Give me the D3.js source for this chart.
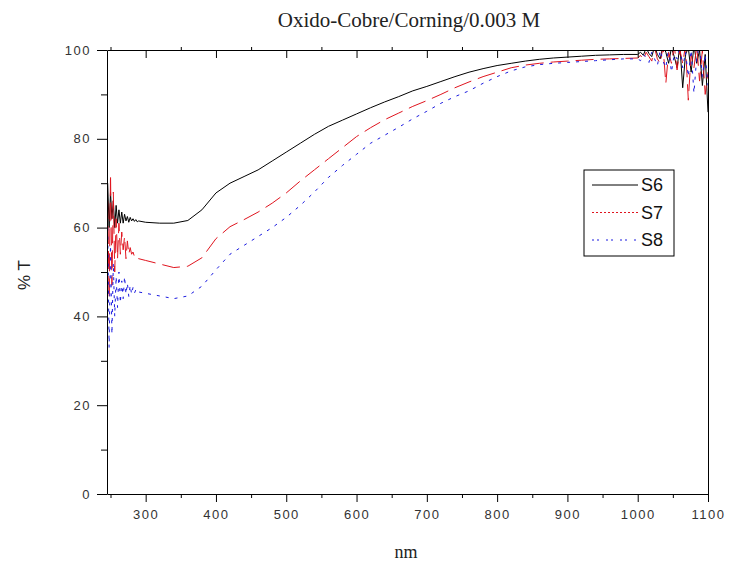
<!DOCTYPE html>
<html>
<head>
<meta charset="utf-8">
<script src="https://cdn.jsdelivr.net/npm/d3@7"></script>
<style>
	body { margin: 0; background: #fff; }
	svg { display: block; }
</style>
</head>
<body>
<div id="chart"></div>
<script>
'use strict';

// wavelength (nm): dense at the noisy ends, coarser in the smooth middle
const nm_start = [246,248,250,252,254,256,258,260,262,264,266,268,270,272,274,276,278,280,282,284,286,288,290];
const nm_mid = [300,320,340,360,380,400,420,440,460,480,500,520,540,560,580,600,620,640,660,680,700,720,740,760,780,800,820,840,860,880,900,920,940,960,980];
const nm_end = [1000,1004,1008,1012,1016,1020,1024,1028,1032,1036,1040,1044,1048,1052,1056,1060,1064,1068,1072,1076,1080,1084,1088,1092,1096,1100];

// % T
const s6_start = [70,60,68,62,66,60,65,61,64,61,63.5,61,63,61.5,62.5,61.2,62.3,61.5,62,61.4,61.8,61.3,61.5];
const s6_mid = [61.2,61,61,61.6,64,67.8,70,71.5,73,75,77,79,81,82.8,84.2,85.6,87,88.3,89.5,90.8,91.8,92.9,94,95,95.8,96.5,97,97.5,97.9,98.2,98.4,98.6,98.8,98.9,99];
const s6_end = [99,99.5,98.8,100.5,99.2,98.5,100.8,99,98,101,99.5,97,100.5,98.5,96,101,91.5,99,100.5,95,101,97,100,92,99,86];

const s7_start = [66,44,72,47,68,50,62,53,61,54,59,55,58,53,57,54,55.5,54,54.5,53.5,53.8,53.2,53];
const s7_mid = [52.6,51.8,51,51.3,53.2,57.5,60.2,61.8,63.5,65.5,67.8,70.5,73,75.5,78,80.5,82.5,84.3,85.8,87.3,88.6,90,91.5,92.8,94,95,96,96.6,97,97.3,97.5,97.7,97.9,98,98.1];
const s7_end = [98.2,98.8,97.8,99.5,98.5,97.5,100.5,98,97,100.8,92.5,99.5,97,101,95.5,100,97,101,88.7,99,96,101,93,100,90,95];

const s8_start = [60,33,56,36,52,40,49,42,50,43,48,44,49,45,47.5,44.5,47,45,46.5,45.2,46,45.3,45.5];
const s8_mid = [45.2,44.6,44,44.6,46.8,50.5,54,56,58,60,62.3,65,68,71.3,74,76.5,79,80.8,82.6,84.5,86.2,88,89.5,90.8,92.5,94,95.3,96.2,96.7,97,97.2,97.4,97.6,97.8,98];
const s8_end = [98,97.6,99,98.3,97.2,99.5,98,96.5,100,97.5,96,100.5,95,99,98,101,96,99.5,94,100,90.3,98.5,101,94,99,92];

const series_names = ["S6","S7","S8"];
const x_major = [300,400,500,600,700,800,900,1000,1100];
const x_minor = [250,350,450,550,650,750,850,950,1050];
const y_major = [0,20,40,60,80,100];
const y_minor = [10,30,50,70,90];

const nm = nm_start.concat(nm_mid, nm_end);
const series = [
	{ name: series_names[0], values: s6_start.concat(s6_mid, s6_end), color: "#000000", dash: null, legend_dash: null },
	{ name: series_names[1], values: s7_start.concat(s7_mid, s7_end), color: "#e0141e", dash: "18,7", legend_dash: "2,2" },
	{ name: series_names[2], values: s8_start.concat(s8_mid, s8_end), color: "#1a1ae0", dash: "3,6", legend_dash: "2,3,2,7" }
];

const width = 729, height = 566;
const margin = { top: 50, right: 21, bottom: 72, left: 107 };

const svg = d3.select("#chart").append("svg")
	.attr("width", width)
	.attr("height", height);

const x = d3.scaleLinear()
	.domain([245, 1100])
	.range([margin.left, width - margin.right]);

const y = d3.scaleLinear()
	.domain([0, 100])
	.range([height - margin.bottom, margin.top]);

svg.append("defs").append("clipPath")
		.attr("id", "plot-clip")
	.append("rect")
		.attr("x", margin.left)
		.attr("y", margin.top)
		.attr("width", x.range()[1] - margin.left)
		.attr("height", y.range()[0] - margin.top);

const line = d3.line()
	.x((d, i) => x(nm[i]))
	.y(d => y(d));

svg.append("g")
		.attr("clip-path", "url(#plot-clip)")
	.selectAll("path")
	.data(series)
	.join("path")
		.attr("fill", "none")
		.attr("stroke", d => d.color)
		.attr("stroke-width", 1)
		.attr("stroke-dasharray", d => d.dash)
		.attr("d", d => line(d.values));

// frame + axes
const tick_font = g => g
	.attr("font-family", "'Liberation Sans', Arial, sans-serif")
	.attr("font-size", 13)
	.attr("letter-spacing", 1.5)
	.call(g => g.selectAll("text").attr("fill", "#333"));

svg.append("g")
	.attr("transform", `translate(0,${y(0)})`)
	.call(d3.axisBottom(x).tickValues(x_major).tickFormat(d3.format("d")).tickSize(8).tickSizeOuter(0).tickPadding(8))
	.call(tick_font);

svg.append("g")
	.attr("transform", `translate(0,${y(0)})`)
	.call(d3.axisBottom(x).tickValues(x_minor).tickSize(4).tickFormat(""))
	.call(g => g.select(".domain").remove());

svg.append("g")
	.attr("transform", `translate(0,${y(100)})`)
	.call(d3.axisBottom(x).tickValues(x_major).tickSize(8).tickSizeOuter(0).tickFormat(""));

svg.append("g")
	.attr("transform", `translate(0,${y(100)})`)
	.call(d3.axisTop(x).tickValues(x_minor).tickSize(3).tickFormat(""))
	.call(g => g.select(".domain").remove());

svg.append("g")
	.attr("transform", `translate(${margin.left},0)`)
	.call(d3.axisLeft(y).tickValues(y_major).tickSize(10).tickSizeOuter(0).tickPadding(6))
	.call(tick_font);

svg.append("g")
	.attr("transform", `translate(${margin.left},0)`)
	.call(d3.axisLeft(y).tickValues(y_minor).tickSize(6).tickFormat(""))
	.call(g => g.select(".domain").remove());

svg.append("g")
	.attr("transform", `translate(${x(1100)},0)`)
	.call(d3.axisRight(y).tickValues([]).tickSizeOuter(0));

// titles
svg.append("text")
	.attr("x", 409)
	.attr("y", 27)
	.attr("text-anchor", "middle")
	.attr("font-family", "'Liberation Serif', 'Times New Roman', serif")
	.attr("font-size", 21)
	.attr("fill", "#222")
	.text("Oxido-Cobre/Corning/0.003 M");

svg.append("text")
	.attr("x", 406)
	.attr("y", 558)
	.attr("text-anchor", "middle")
	.attr("font-family", "'Liberation Serif', 'Times New Roman', serif")
	.attr("font-size", 18)
	.attr("fill", "#222")
	.text("nm");

svg.append("text")
	.attr("transform", "translate(30,275) rotate(-90)")
	.attr("text-anchor", "middle")
	.attr("font-family", "'Liberation Sans', Arial, sans-serif")
	.attr("font-size", 17)
	.attr("fill", "#222")
	.text("% T");

// legend
const legend = svg.append("g").attr("transform", "translate(584,170)");

legend.append("rect")
	.attr("width", 90)
	.attr("height", 86)
	.attr("fill", "#fff")
	.attr("stroke", "#000")
	.attr("stroke-width", 1);

const row = legend.selectAll("g.row")
	.data(series)
	.join("g")
		.attr("class", "row")
		.attr("transform", (d, i) => `translate(0,${15 + i * 27.5})`);

row.append("line")
	.attr("x1", 8)
	.attr("x2", 54)
	.attr("stroke", d => d.color)
	.attr("stroke-width", 1)
	.attr("stroke-dasharray", d => d.legend_dash);

row.append("text")
	.attr("x", 57)
	.attr("y", 6)
	.attr("font-family", "'Liberation Sans', Arial, sans-serif")
	.attr("font-size", 18)
	.attr("fill", "#111")
	.text(d => d.name);
</script>
</body>
</html>
